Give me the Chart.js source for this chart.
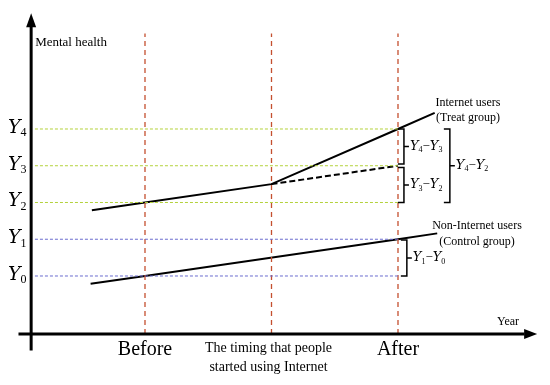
<!DOCTYPE html>
<html>
<head>
<meta charset="utf-8">
<script src="https://cdn.jsdelivr.net/npm/chart.js@4"></script>
<style>
  body { margin: 0; background: #fff; }
  #wrap { width: 550px; height: 385px; position: relative; }
</style>
</head>
<body>
<div id="wrap"><canvas id="didChart"></canvas></div>
<script>
// Kavramsal DiD diyagramı: Y ekseni "Mental health", X ekseni zaman
const levelY = [0, 1, 2, 3, 4];              // Y0..Y4 seviyeleri
const levelSubs = ['0', '1', '2', '3', '4'];
const periodX = [1, 2, 3];                   // Before, Internet başlangıcı, After
const periodLabels = ['Before', '', 'After'];

const treatX = [0.58, 1, 2, 3, 3.29];
const treatY = [1.79, 2, 2.5, 4, 4.44];
const counterX = [2, 3];
const counterY = [2.5, 3];
const controlX = [0.57, 1, 3, 3.31];
const controlY = [-0.21, 0, 1, 1.16];

const axisX0 = 0.1;     // y ekseninin durduğu x
const axisY0 = -1.58;   // x ekseninin durduğu y
const guideTop = 6.6;

const greenDash = '#b4d23c';
const blueDash = '#6a6ccf';
const redDash = '#c4502f';

const pts = (xs, ys) => xs.map((x, i) => ({ x: x, y: ys[i] }));

const datasets = [];
// yatay kılavuz çizgileri
levelY.forEach((lv, i) => {
    datasets.push({
        data: [{ x: 0.13, y: lv }, { x: periodX[2], y: lv }],
        borderColor: i >= 2 ? greenDash : blueDash,
        borderWidth: 1, borderDash: [3, 2], showLine: true, pointRadius: 0
    });
});
// dikey kırmızı kesikli çizgiler
periodX.forEach(px => {
    datasets.push({
        data: [{ x: px, y: axisY0 }, { x: px, y: guideTop }],
        borderColor: redDash, borderWidth: 1.3, borderDash: [5, 4], showLine: true, pointRadius: 0
    });
});
datasets.push({ data: pts(treatX, treatY), borderColor: '#000', borderWidth: 2, showLine: true, pointRadius: 0 });
datasets.push({ data: pts(counterX, counterY), borderColor: '#000', borderWidth: 2, borderDash: [6, 3], showLine: true, pointRadius: 0 });
datasets.push({ data: pts(controlX, controlY), borderColor: '#000', borderWidth: 2, showLine: true, pointRadius: 0 });

// Y_a - Y_b parçalarını yaz (alt simgeli)
function drawSubText(ctx, parts, x, y, size) {
    let cx = x;
    parts.forEach(p => {
        if (p.sub) {
            ctx.font = `${Math.round(size * 0.62)}px "Liberation Serif"`;
            ctx.fillText(p.t, cx, y + size * 0.28);
            cx += ctx.measureText(p.t).width;
        } else {
            ctx.font = `${p.it ? 'italic ' : ''}${size}px "DejaVu Serif"`;
            if (!p.it) ctx.font = `${size}px "Liberation Serif"`;
            ctx.fillText(p.t, cx, y);
            cx += ctx.measureText(p.t).width;
        }
    });
    return cx;
}
const diff = (a, b) => [{ t: 'Y', it: true }, { t: a, sub: true }, { t: '−' }, { t: 'Y', it: true }, { t: b, sub: true }];

const brackets = [
    { x: 3.047, top: 4, bot: 3.05, side: 'right', parts: diff('4', '3') },
    { x: 3.047, top: 2.95, bot: 2, side: 'right', parts: diff('3', '2') },
    { x: 3.41, top: 4, bot: 2, side: 'right', parts: diff('4', '2') },
    { x: 3.07, top: 0.98, bot: 0, side: 'right', parts: diff('1', '0') }
];

const diagramPlugin = {
    id: 'diagram',
    afterDatasetsDraw(chart) {
        const ctx = chart.ctx;
        const xs = chart.scales.x, ys = chart.scales.y;
        const X = v => xs.getPixelForValue(v), Y = v => ys.getPixelForValue(v);
        ctx.save();
        ctx.fillStyle = '#000';
        ctx.strokeStyle = '#000';

        // eksenler + oklar
        ctx.lineWidth = 3;
        const ax = X(axisX0), ay = Y(axisY0);
        ctx.beginPath();
        ctx.moveTo(ax, Y(-2.03)); ctx.lineTo(ax, Y(6.95));
        ctx.moveTo(X(0), ay); ctx.lineTo(X(4.0), ay);
        ctx.stroke();
        ctx.beginPath();
        ctx.moveTo(ax, Y(7.15)); ctx.lineTo(ax - 5, Y(7.15) + 14); ctx.lineTo(ax + 5, Y(7.15) + 14); ctx.closePath();
        ctx.fill();
        ctx.beginPath();
        ctx.moveTo(X(4.1), ay); ctx.lineTo(X(4.1) - 13, ay - 5); ctx.lineTo(X(4.1) - 13, ay + 5); ctx.closePath();
        ctx.fill();

        // eksen başlıkları
        ctx.textBaseline = 'middle';
        ctx.textAlign = 'left';
        ctx.font = '13px "Liberation Serif"';
        ctx.fillText('Mental health', ax + 4, 43);
        ctx.textAlign = 'center';
        ctx.font = '12px "Liberation Serif"';
        ctx.fillText('Year', X(3.87), ay - 12);

        // Y0..Y4 etiketleri
        ctx.textAlign = 'left';
        levelY.forEach((lv, i) => {
            drawSubText(ctx, [{ t: 'Y', it: true }, { t: levelSubs[i], sub: true }], 8, Y(lv) - 1, 19);
        });

        // zaman etiketleri
        ctx.textAlign = 'center';
        ctx.font = '20px "Liberation Serif"';
        periodLabels.forEach((lb, i) => { if (lb) ctx.fillText(lb, X(periodX[i]), ay + 16); });
        ctx.font = '14px "Liberation Serif"';
        ctx.fillText('The timing that people', X(periodX[1]) - 3, ay + 14);
        ctx.fillText('started using Internet', X(periodX[1]) - 3, ay + 33);

        // grup etiketleri
        ctx.font = '12px "Liberation Serif"';
        ctx.fillText('Internet users', 468, Y(treatY[4]) - 10);
        ctx.fillText('(Treat group)', 468, Y(treatY[4]) + 5);
        ctx.fillText('Non-Internet users', 477, Y(controlY[3]) - 8);
        ctx.fillText('(Control group)', 477, Y(controlY[3]) + 8);

        // köşeli parantezler
        ctx.lineWidth = 1.5;
        ctx.textAlign = 'left';
        brackets.forEach(b => {
            const bx = X(b.x), t = Y(b.top), bt = Y(b.bot), m = (t + bt) / 2;
            ctx.beginPath();
            ctx.moveTo(bx - 6, t); ctx.lineTo(bx, t); ctx.lineTo(bx, bt); ctx.lineTo(bx - 6, bt);
            ctx.moveTo(bx, m); ctx.lineTo(bx + 5, m);
            ctx.stroke();
            drawSubText(ctx, b.parts, bx + 6, m, 13);
        });
        ctx.restore();
    }
};

new Chart(document.getElementById('didChart'), {
    type: 'scatter',
    data: { datasets: datasets },
    options: {
        responsive: true,
        maintainAspectRatio: false,
        animation: false,
        layout: { padding: 0 },
        plugins: { legend: { display: false }, tooltip: { enabled: false } },
        scales: {
            x: { type: 'linear', display: false, min: -0.1462, max: 4.2016 },
            y: { type: 'linear', display: false, min: -2.966, max: 7.510 }
        }
    },
    plugins: [diagramPlugin]
});
</script>
</body>
</html>
